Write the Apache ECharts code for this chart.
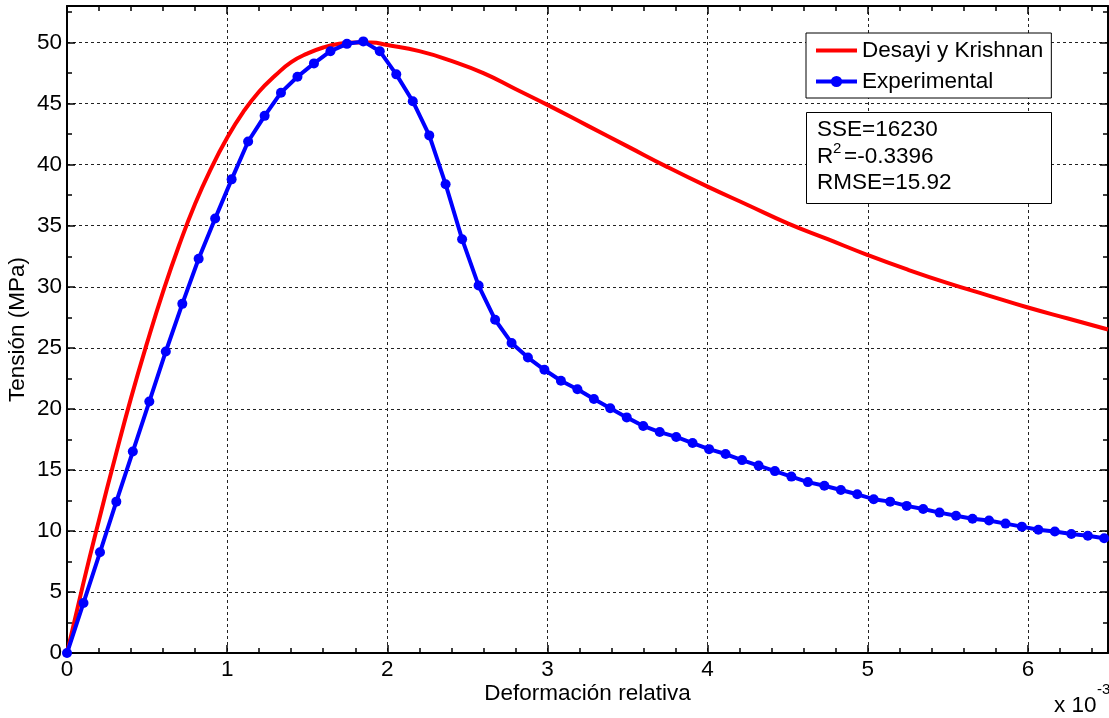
<!DOCTYPE html>
<html>
<head>
<meta charset="utf-8">
<script src="https://cdn.jsdelivr.net/npm/echarts@6/dist/echarts.min.js"></script>
<style>
  html, body { margin: 0; background: #fff; }
  #chart { width: 1109px; height: 718px; }
</style>
</head>
<body>
<div id="chart"></div>
<script>
const seriesNames = ['Desayi y Krishnan', 'Experimental']

// Desayi y Krishnan model curve (strain x 10^-3, stress MPa)
const modelX = [0, 0.1, 0.2, 0.3, 0.4, 0.5, 0.6, 0.7, 0.8, 0.9, 1.0, 1.1, 1.2, 1.3, 1.4, 1.5, 1.6, 1.7, 1.8, 1.9,
  2.0, 2.2, 2.4, 2.6, 2.8, 3.0, 3.25, 3.5, 3.75, 4.0, 4.25, 4.5, 4.75, 5.0, 5.25, 5.5, 5.75, 6.0, 6.25, 6.5]
const modelY = [0, 5.6, 10.9, 16.0, 20.9, 25.4, 29.6, 33.4, 36.8, 39.7, 42.2, 44.3, 46.0, 47.3, 48.4, 49.1, 49.6, 49.9, 50.0, 50.0,
  49.8, 49.3, 48.5, 47.5, 46.2, 44.9, 43.2, 41.5, 39.8, 38.2, 36.7, 35.2, 33.9, 32.6, 31.4, 30.3, 29.3, 28.3, 27.4, 26.5]

// experimental points
const expX = [0, 0.103, 0.206, 0.308, 0.411, 0.514, 0.617, 0.720, 0.822, 0.925,
  1.028, 1.131, 1.234, 1.336, 1.439, 1.542, 1.645, 1.748, 1.850, 1.953,
  2.056, 2.159, 2.262, 2.364, 2.467, 2.570, 2.673, 2.776, 2.878, 2.981,
  3.084, 3.187, 3.290, 3.392, 3.495, 3.598, 3.701, 3.804, 3.906, 4.009,
  4.112, 4.215, 4.318, 4.420, 4.523, 4.626, 4.729, 4.832, 4.934, 5.037,
  5.140, 5.243, 5.346, 5.448, 5.551, 5.654, 5.757, 5.860, 5.962, 6.065,
  6.168, 6.271, 6.374, 6.476]
const expY = [0, 4.1, 8.25, 12.4, 16.5, 20.6, 24.7, 28.6, 32.3, 35.6,
  38.8, 41.9, 44.0, 45.9, 47.2, 48.3, 49.3, 49.9, 50.1, 49.3,
  47.4, 45.2, 42.4, 38.4, 33.9, 30.1, 27.3, 25.4, 24.2, 23.2,
  22.3, 21.6, 20.8, 20.05, 19.3, 18.6, 18.1, 17.7, 17.2, 16.7,
  16.3, 15.8, 15.35, 14.9, 14.45, 14.0, 13.7, 13.35, 13.0, 12.6,
  12.4, 12.05, 11.8, 11.5, 11.25, 11.0, 10.85, 10.6, 10.35, 10.1,
  9.95, 9.75, 9.6, 9.4]

const statsText = { sse: 'SSE=16230', r2: '=-0.3396', rmse: 'RMSE=15.92' }

const FONT = '"Liberation Sans", Arial, Helvetica, sans-serif'
const FS = 22.5
const SUP = 15

const axisBase = (extra) => Object.assign({
  type: 'value',
  axisLine: { show: false, onZero: false },
  axisTick: { show: true, inside: true, length: 5, lineStyle: { color: '#000', width: 1.5 } },
  axisLabel: { show: false },
  splitLine: { show: false }
}, extra)

const majorLine = { show: true, onZero: false, lineStyle: { color: '#000', width: 2 } }
const majorTick = { show: true, inside: true, length: 8, lineStyle: { color: '#000', width: 1.5 } }
const gridLine = { show: true, lineStyle: { color: '#222', width: 1, type: [3, 3] } }
const labelStyle = { color: '#000', fontSize: FS, fontFamily: FONT }

const chart = echarts.init(document.getElementById('chart'))

chart.setOption({
  animation: false,
  backgroundColor: '#fff',
  grid: { left: 67, right: 1, top: 6, bottom: 65, containLabel: false, outerBoundsMode: 'none' },
  legend: {
    data: [
      { name: seriesNames[0], itemStyle: { opacity: 0 } },
      { name: seriesNames[1] }
    ],
    orient: 'vertical',
    left: 806,
    top: 33,
    backgroundColor: '#fff',
    borderColor: '#000',
    borderWidth: 1,
    padding: [6, 8, 5, 8],
    itemWidth: 41,
    itemHeight: 14,
    itemGap: 8,
    lineStyle: { width: 4 },
    textStyle: { color: '#000', fontSize: FS, fontFamily: FONT }
  },
  xAxis: [
    axisBase({
      position: 'bottom', min: 0, max: 6.5, interval: 1,
      axisLine: majorLine, axisTick: majorTick, splitLine: gridLine,
      axisLabel: Object.assign({ show: true, margin: 5, formatter: v => Number.isInteger(v) ? String(v) : '' }, labelStyle),
      name: 'Deformación relativa', nameLocation: 'middle', nameGap: 29, nameMoveOverlap: false,
      nameTextStyle: labelStyle
    }),
    axisBase({ position: 'bottom', min: 0, max: 6.5, interval: 0.2 }),
    axisBase({ position: 'top', min: 0, max: 6.5, interval: 1, axisLine: majorLine, axisTick: majorTick }),
    axisBase({ position: 'top', min: 0, max: 6.5, interval: 0.2 })
  ],
  yAxis: [
    axisBase({
      position: 'left', min: 0, max: 53, interval: 5,
      axisLine: majorLine, axisTick: majorTick, splitLine: gridLine,
      axisLabel: Object.assign({ show: true, margin: 5, formatter: v => v % 5 === 0 ? String(v) : '' }, labelStyle),
      name: 'Tensión (MPa)', nameLocation: 'middle', nameGap: 38, nameMoveOverlap: false,
      nameTextStyle: labelStyle
    }),
    axisBase({ position: 'left', min: 0, max: 53, interval: 2.5 }),
    axisBase({ position: 'right', min: 0, max: 53, interval: 5, axisLine: majorLine, axisTick: majorTick }),
    axisBase({ position: 'right', min: 0, max: 53, interval: 2.5 })
  ],
  series: [
    {
      name: seriesNames[0],
      type: 'line',
      xAxisIndex: 0,
      yAxisIndex: 0,
      data: modelX.map((x, i) => [x, modelY[i]]),
      smooth: true,
      symbol: 'none',
      lineStyle: { color: '#ff0000', width: 4 },
      itemStyle: { color: '#ff0000' }
    },
    {
      name: seriesNames[1],
      type: 'line',
      xAxisIndex: 0,
      yAxisIndex: 0,
      data: expX.map((x, i) => [x, expY[i]]),
      symbol: 'circle',
      symbolSize: 10,
      showAllSymbol: true,
      lineStyle: { color: '#0000ff', width: 4 },
      itemStyle: { color: '#0000ff' }
    }
  ],
  graphic: [
    {
      type: 'rect', z: 100,
      shape: { x: 806.5, y: 112.5, width: 245, height: 91 },
      style: { fill: '#fff', stroke: '#000', lineWidth: 1 }
    },
    { type: 'text', z: 101, x: 817, y: 130, style: { text: statsText.sse, font: `${FS}px ${FONT}`, fill: '#000', verticalAlign: 'middle' } },
    { type: 'text', z: 101, x: 817, y: 157, style: { text: 'R', font: `${FS}px ${FONT}`, fill: '#000', verticalAlign: 'middle' } },
    { type: 'text', z: 101, x: 833, y: 149, style: { text: '2', font: `${SUP}px ${FONT}`, fill: '#000', verticalAlign: 'middle' } },
    { type: 'text', z: 101, x: 844, y: 157, style: { text: statsText.r2, font: `${FS}px ${FONT}`, fill: '#000', verticalAlign: 'middle' } },
    { type: 'text', z: 101, x: 817, y: 183, style: { text: statsText.rmse, font: `${FS}px ${FONT}`, fill: '#000', verticalAlign: 'middle' } },
    { type: 'text', z: 101, x: 1054, y: 706, style: { text: 'x 10', font: `${FS}px ${FONT}`, fill: '#000', verticalAlign: 'middle' } },
    { type: 'text', z: 101, x: 1097, y: 690, style: { text: '-3', font: `${SUP}px ${FONT}`, fill: '#000', verticalAlign: 'middle' } }
  ]
})

window.addEventListener('resize', () => chart.resize())
</script>
</body>
</html>
